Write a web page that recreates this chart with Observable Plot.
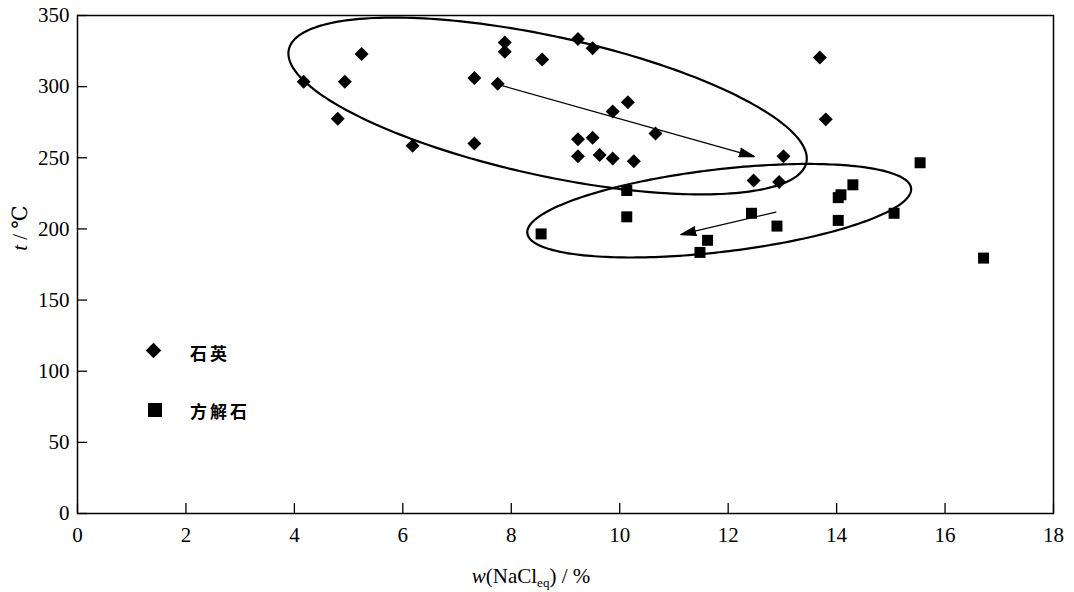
<!DOCTYPE html>
<html><head><meta charset="utf-8">
<script src="https://cdn.jsdelivr.net/npm/d3@7"></script>
<script src="https://cdn.jsdelivr.net/npm/@observablehq/plot@0.6"></script>
<style>
body{margin:0;background:#fff;}
#wrap{position:relative;width:1074px;height:592px;font-family:"Liberation Serif","DejaVu Serif",serif;color:#000;}
#wrap svg{display:block;}
#wrap svg text{font-family:"Liberation Serif","DejaVu Serif",serif !important;font-size:21px !important;}
.lab{position:absolute;font-size:21px;white-space:nowrap;}
#ytitle{left:20px;top:228px;transform:translate(-50%,-50%) rotate(-90deg);}
#xtitle{left:531px;top:577px;transform:translate(-50%,-50%);}
#xtitle sub{font-size:13px;vertical-align:-4px;}
.leg{position:absolute;font-family:"Noto Sans CJK SC",sans-serif;font-size:17px;font-weight:bold;letter-spacing:3px;}
.sym{position:absolute;background:#000;}
</style></head><body><div id="wrap"></div>
<script>
// 石英 (quartz) inclusions: salinity w(NaCl_eq) %, homogenisation temperature t ℃
const quartzX = [4.17, 4.80, 4.93, 5.24, 6.18, 7.32, 7.32, 7.75, 7.88, 7.88, 8.57, 9.23, 9.50, 9.87, 10.15, 9.23, 9.50, 9.23, 9.63, 9.87, 10.26, 10.66, 13.02, 12.47, 12.94, 13.69, 13.80];
const quartzT = [303.5, 277.5, 303.5, 323, 258.5, 306, 260, 302, 331, 324.5, 319, 333.5, 327, 282.5, 289, 263, 264, 251, 252, 249.5, 247.5, 267, 251, 234, 233, 320.5, 277];
// 方解石 (calcite) inclusions
const calciteX = [8.55, 10.13, 10.13, 11.48, 11.62, 12.43, 12.90, 14.03, 14.08, 14.30, 14.03, 15.06, 15.54, 16.71];
const calciteT = [196.5, 227, 208.5, 183.5, 192, 211, 202, 206, 224, 231, 222, 211, 246.5, 179.5];
const xTicks = [0, 2, 4, 6, 8, 10, 12, 14, 16, 18];
const yTicks = [0, 50, 100, 150, 200, 250, 300, 350];
// trend arrows (quartz → calcite)
const arrowX1 = [7.80, 12.88];
const arrowT1 = [301, 211.8];
const arrowX2 = [12.48, 11.13];
const arrowT2 = [250.9, 196.1];
// grouping ellipses: centre, half-width in x, tilt and half-height in t
const ellCx = [8.67, 11.835];
const ellCt = [286.4, 212.8];
const ellHalfW = [4.78, 3.54];
const ellTilt = [-36.9, 15.1];
const ellHalfH = [50.0, 29.2];

const quartz = quartzX.map((x, i) => ({x, t: quartzT[i]}));
const calcite = calciteX.map((x, i) => ({x, t: calciteT[i]}));
const arrows = arrowX1.map((x1, i) => ({x1, y1: arrowT1[i], x2: arrowX2[i], y2: arrowT2[i]}));
const ellipses = [];
ellCx.forEach((cx, k) => {
  for (let j = 0; j <= 240; j++) {
    const a = 2 * Math.PI * j / 240;
    ellipses.push({k, x: cx + ellHalfW[k] * Math.cos(a), t: ellCt[k] + ellTilt[k] * Math.cos(a) + ellHalfH[k] * Math.sin(a)});
  }
});

const chart = Plot.plot({
  width: 1074, height: 592,
  marginLeft: 77, marginRight: 21, marginTop: 15, marginBottom: 79,
  style: {fontFamily: '"Liberation Serif","DejaVu Serif",serif', fontSize: "21px", color: "#000", background: "#fff"},
  x: {domain: [0, 18]},
  y: {domain: [0, 350]},
  marks: [
    Plot.line(ellipses, {x: "x", y: "t", z: "k", stroke: "#000", strokeWidth: 2.2}),
    Plot.arrow(arrows, {x1: "x1", y1: "y1", x2: "x2", y2: "y2", stroke: "#000", fill: "#000", strokeWidth: 1.3, headLength: 18, headAngle: 32}),
    Plot.dot(quartz, {x: "x", y: "t", symbol: "diamond2", r: 6.3, fill: "#000", stroke: "none"}),
    Plot.dot(calcite, {x: "x", y: "t", symbol: "square", r: 6.2, fill: "#000", stroke: "none"}),
    Plot.frame({stroke: "#000", strokeWidth: 1.5}),
    Plot.axisY(yTicks, {anchor: "left", tickSize: -10, tickPadding: 18, label: null, fontFamily: "Liberation Serif", fontSize: 21, strokeWidth: 1.3}),
    Plot.axisX(xTicks, {anchor: "bottom", tickSize: -10, tickPadding: 24, label: null, fontFamily: "Liberation Serif", fontSize: 21, strokeWidth: 1.3})
  ]
});
const wrap = document.getElementById("wrap");
wrap.appendChild(chart);
wrap.insertAdjacentHTML("beforeend", `
<div class="lab" id="ytitle"><i>t</i> / ℃</div>
<div class="lab" id="xtitle"><i>w</i>(NaCl<sub>eq</sub>) / %</div>
<div class="sym" style="left:148px;top:345px;width:11px;height:11px;transform:rotate(45deg);"></div>
<div class="leg" style="left:190px;top:340px;">石英</div>
<div class="sym" style="left:148px;top:403px;width:14px;height:14px;"></div>
<div class="leg" style="left:190px;top:398px;">方解石</div>
`);
</script></body></html>
